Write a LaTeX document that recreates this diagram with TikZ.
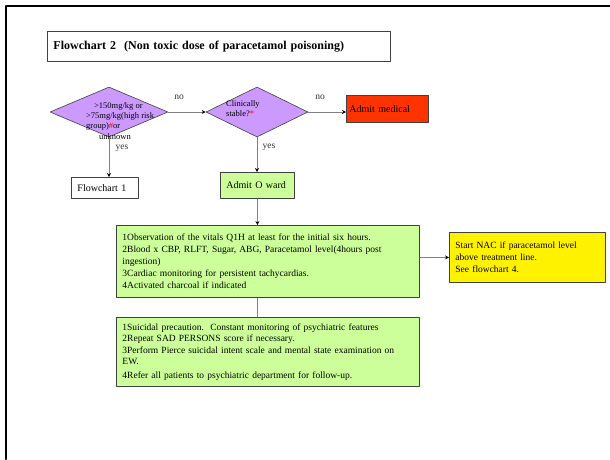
\documentclass[tikz,border=0pt]{standalone}
\usepackage{fontspec}
\setmainfont{Liberation Serif}
\usetikzlibrary{shapes.geometric,arrows.meta}
\definecolor{lilac}{HTML}{CC99FF}
\definecolor{lgreen}{HTML}{CCFF99}
\definecolor{redor}{HTML}{FF3300}
\tikzset{
  box/.style={draw=black!75,line width=0.9pt,rectangle,anchor=north west,inner sep=0pt,align=left,font=\fontsize{9.5}{12}\selectfont},
  dia/.style={draw=black!75,line width=0.6pt,diamond,fill=lilac,inner sep=0pt},
  dtext/.style={anchor=north west,inner sep=0pt,align=left,font=\fontsize{8.5}{10.3}\selectfont},
  lbl/.style={inner sep=0pt,font=\fontsize{9.5}{11}\selectfont,text=black!80},
  conn/.style={draw=black!50,line width=0.8pt}
}
\begin{document}
\begin{tikzpicture}[line cap=round,line join=round,>={Stealth[black,length=4pt,width=4pt]},x=1pt,y=-1pt]
				\useasboundingbox (0,0) rectangle (610,459);
				\draw[line width=2pt] (610,6)--(6,6)--(6,459);
				\node[box,minimum width=343pt,minimum height=30pt,font=\fontsize{12}{14}\selectfont\bfseries,text width=331pt,inner xsep=6pt] (title) at (47,31) {Flowchart 2\ \ (Non toxic dose of paracetamol poisoning)};
				% decisions
				\node[dia,minimum width=118pt,minimum height=50pt] (q1) at (109,112) {};
				\node[dtext] (q1t) at (86,102) {\hspace*{8pt}>150mg/kg or\\>75mg/kg(high risk\\group)\textcolor{red}{\#}or\\\hspace*{13pt}unknown};
				\node[dia,minimum width=102pt,minimum height=50pt] (q2) at (257,112) {};
				\node[dtext] (q2t) at (226,100) {Clinically\\stable?\textcolor{red}{*}};
				\node[box,fill=redor,minimum width=82pt,minimum height=27pt,text width=76pt,inner xsep=3pt,font=\fontsize{10}{12}\selectfont] (med) at (346,95) {Admit medical};
				\node[box,fill=white,minimum width=67pt,minimum height=21pt,text width=55pt,inner xsep=6pt,font=\fontsize{10}{12}\selectfont] (fc1) at (71,177) {Flowchart 1};
				\node[box,fill=lgreen,minimum width=74pt,minimum height=26pt,text width=62pt,inner xsep=6pt,font=\fontsize{10}{12}\selectfont] (aow) at (220,172) {Admit O ward};
				% actions
				\node[box,fill=lgreen,minimum width=303pt,minimum height=72pt,text width=291pt,inner xsep=6pt] (obs) at (116,225) {1Observation of the vitals Q1H at least for the initial six hours.\\2Blood x CBP, RLFT, Sugar, ABG, Paracetamol level(4hours post\\ingestion)\\3Cardiac monitoring for persistent tachycardias.\\4Activated charcoal if indicated};
				\node[box,fill=yellow,minimum width=156pt,minimum height=50pt,text width=144pt,inner xsep=6pt,font=\fontsize{9.5}{12}\selectfont] (nac) at (449,232) {Start NAC if paracetamol level\\above treatment line.\\See flowchart 4.};
				\node[box,fill=lgreen,minimum width=303pt,minimum height=69pt,text width=291pt,inner xsep=6pt,font=\fontsize{9.5}{11.5}\selectfont] (sui) at (116,317) {1Suicidal precaution.\ \ Constant monitoring of psychiatric features\\2Repeat SAD PERSONS score if necessary.\\3Perform Pierce suicidal intent scale and mental state examination on\\EW.\\[2pt]4Refer all patients to psychiatric department for follow-up.};
				% connectors
				\draw[conn,->] (q1.east)--(q2.west);
				\draw[conn,->] (q2.east)--(q2.east -| med.west);
				\draw[conn,->] (q1.south)--(q1.south |- fc1.north);
				\draw[conn,->] (q2.south)--(q2.south |- aow.north);
				\draw[conn,->] (aow.south)--(aow.south |- obs.north);
				\draw[conn,->] (nac.west -| obs.east)--(nac.west);
				\draw[conn] (aow.south |- obs.south)--(aow.south |- sui.north);
				\node[lbl] (no1) at (179,97) {no};
				\node[lbl] (no2) at (320,97) {no};
				\node[lbl] (yes1) at (122,148) {yes};
				\node[lbl] (yes2) at (269,147) {yes};
			\end{tikzpicture}
\end{document}
